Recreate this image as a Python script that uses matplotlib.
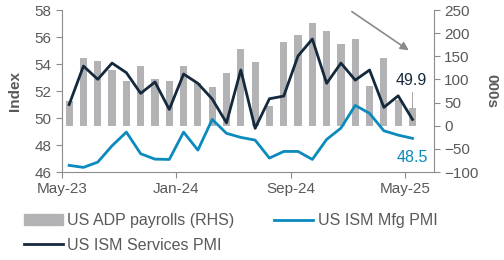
import numpy as np
import matplotlib
matplotlib.use("Agg")
import matplotlib.pyplot as plt
from matplotlib.patches import Patch
from matplotlib.lines import Line2D

plt.rcParams['font.family'] = ['Liberation Sans', 'DejaVu Sans']

# monthly, May-23 .. May-25
months = ["May-23", "Jun-23", "Jul-23", "Aug-23", "Sep-23", "Oct-23", "Nov-23",
          "Dec-23", "Jan-24", "Feb-24", "Mar-24", "Apr-24", "May-24", "Jun-24",
          "Jul-24", "Aug-24", "Sep-24", "Oct-24", "Nov-24", "Dec-24", "Jan-25",
          "Feb-25", "Mar-25", "Apr-25", "May-25"]
adp = [53, 146, 139, 120, 97, 130, 101, 97, 129, 92, 83, 114, 165, 138,
       43, 181, 195, 221, 205, 177, 187, 85, 147, 56, 38]
ism_mfg = [46.5, 46.35, 46.74, 47.95, 48.96, 47.36, 46.96, 46.94, 48.96,
           47.63, 49.9, 48.87, 48.57, 48.37, 47.04, 47.53, 47.53, 46.94,
           48.42, 49.26, 50.94, 50.35, 49.06, 48.74, 48.5]
ism_serv = [51.0, 53.85, 52.87, 54.07, 53.36, 51.83, 52.67, 50.64, 53.26,
            52.57, 51.41, 49.65, 53.56, 49.24, 51.43, 51.63, 54.6, 55.85,
            52.57, 54.07, 52.81, 53.56, 50.79, 51.65, 49.9]
tick_labels = ["May-23", "Jan-24", "Sep-24", "May-25"]

NAVY = "#15293d"
BLUE = "#0a8abd"
BAR = "#b3b3b6"
AXC = "#8c8c8c"
TXT = "#595959"

x = np.arange(len(months))

fig = plt.figure(figsize=(5.04, 2.6), dpi=100)
ax = fig.add_axes([0.123, 0.338, 0.738, 0.6235])
ax2 = ax.twinx()

# bars on the RHS axis, drawn behind the lines
ax2.bar(x, adp, width=0.5, color=BAR, zorder=1)
ax2.set_ylim(-100, 250)
ax2.set_yticks(np.arange(-100, 251, 50))
ax.set_zorder(ax2.get_zorder() + 1)
ax.patch.set_visible(False)

ax.plot(x, ism_mfg, color=BLUE, lw=2)
ax.plot(x, ism_serv, color=NAVY, lw=2)
ax.set_ylim(46, 58)
ax.set_yticks(np.arange(46, 59, 2))
ax.set_xlim(-0.5, len(months) + 0.5)
ax.set_xticks([months.index(m) - 0.5 for m in tick_labels])
ax.set_xticklabels(tick_labels)

for a in (ax, ax2):
    for s in a.spines.values():
        s.set_color(AXC)
    a.spines['top'].set_visible(False)
    a.tick_params(colors=AXC, labelcolor=TXT, labelsize=11, length=4)
ax.spines['right'].set_visible(False)
ax2.spines['left'].set_visible(False)
ax2.spines['bottom'].set_visible(False)
ax.tick_params(axis='x', pad=3)

ax.set_ylabel("Index", color=TXT, fontsize=11, fontweight='bold', labelpad=9)
ax2.set_ylabel("000s", color=TXT, fontsize=11, fontweight='bold',
               rotation=270, labelpad=14)

# end labels
last = len(months) - 1
ax2.plot([last, last], [adp[-1], adp[-1] + 36], color="#a6a6a6", lw=0.7, zorder=2)
ax.text(last + 1.0, ism_serv[-1] + 2.85, f"{ism_serv[-1]:.1f}", color=NAVY,
        fontsize=11.5, ha='right', va='center')
ax.text(last + 1.1, ism_mfg[-1] - 1.4, f"{ism_mfg[-1]:.1f}", color=BLUE,
        fontsize=11.5, ha='right', va='center')

# trend arrow
ax.annotate("", xy=(23.9, 54.9), xytext=(19.6, 58.0),
            arrowprops=dict(arrowstyle="-|>", color="#8a8a8a", lw=1.2,
                            mutation_scale=12))

handles = [Patch(color=BAR, label="US ADP payrolls (RHS)"),
           Line2D([], [], color=NAVY, lw=2, label="US ISM Services PMI"),
           Line2D([], [], color=BLUE, lw=2, label="US ISM Mfg PMI")]
fig.legend(handles=handles, ncol=2, loc='upper left',
           bbox_to_anchor=(0.048, 0.18), frameon=False, fontsize=11.5,
           labelcolor=TXT, handlelength=2.4, handletextpad=0.3,
           columnspacing=2.5, labelspacing=0.6, borderaxespad=0,
           borderpad=0)

fig.savefig("out.png", dpi=100)
